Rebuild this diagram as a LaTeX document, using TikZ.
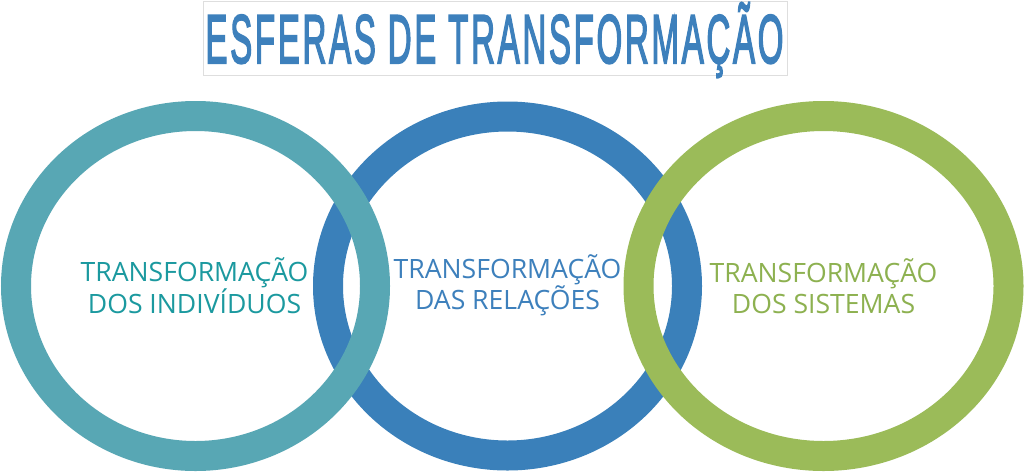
\documentclass[tikz,border=0pt]{standalone}
\usepackage{fontspec}
\usepackage{graphicx}
\setmainfont{Open Sans}
\newfontfamily\titlefont[FakeBold=3,LetterSpace=8]{Liberation Sans}
\definecolor{ringteal}{HTML}{58A7B4}
\definecolor{ringblue}{HTML}{3A80BA}
\definecolor{ringgreen}{HTML}{9BBB59}
\definecolor{txtteal}{HTML}{1B999F}
\definecolor{txtblue}{HTML}{3D80BC}
\definecolor{txtgreen}{HTML}{8DB150}
\definecolor{titleblue}{HTML}{3D80BC}
\definecolor{boxgray}{HTML}{DEDEDE}
\tikzset{
  ring/.style={line width=30pt},
  label/.style={align=center, font=\fontsize{26.6}{31}\selectfont, inner sep=0pt},
}
\begin{document}
\begin{tikzpicture}[x=1pt,y=-1pt]
\useasboundingbox (0,0) rectangle (1024,472);
\fill[white] (0,0) rectangle (1024,472);
% title
\node[draw=boxgray, fill=white, line width=1pt, minimum width=584pt, minimum height=74pt, inner sep=0pt] (titlebox) at (495,38) {};
\node[text=titleblue, inner sep=0pt, anchor=base] (title) at (494.5,63)
  {\resizebox{578pt}{\height}{\titlefont\fontsize{69}{69}\selectfont ESFERAS DE TRANSFORMAÇÃO}};
% rings
\draw[ring, ringblue] (507.5,286) ellipse [x radius=179.5pt, y radius=169.5pt];
\draw[ring, ringteal] (195.5,286) ellipse [x radius=179.5pt, y radius=170pt];
\draw[ring, ringgreen] (823.5,286) ellipse [x radius=185pt, y radius=170pt];
% labels
\node[label, text=txtteal] (ind) at (194.5,286) {TRANSFORMAÇÃO\\DOS INDIVÍDUOS};
\node[label, text=txtblue] (rel) at (507.5,285) {TRANSFORMAÇÃO\\DAS RELAÇÕES};
\node[label, text=txtgreen] (sis) at (823.5,286) {TRANSFORMAÇÃO\\DOS SISTEMAS};
\end{tikzpicture}
\end{document}
